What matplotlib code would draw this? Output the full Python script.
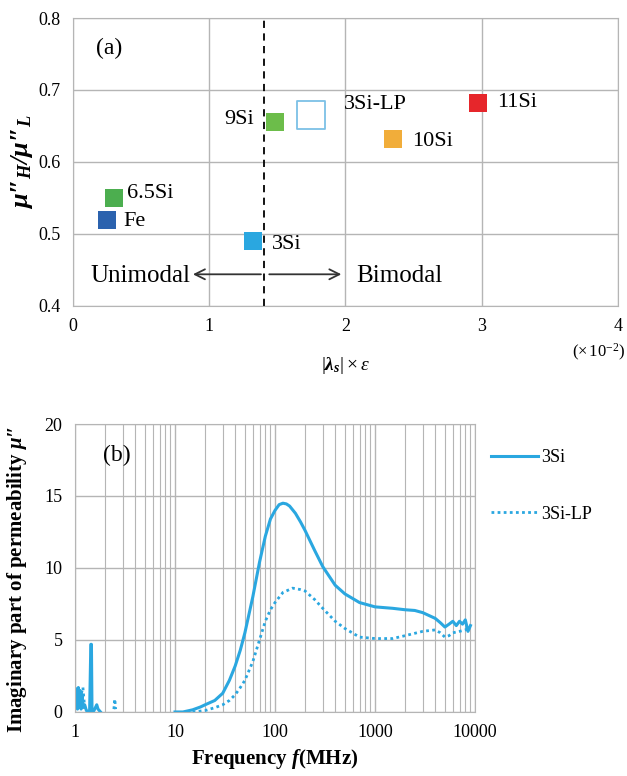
import numpy as np
import matplotlib
matplotlib.use('Agg')
import matplotlib.pyplot as plt

plt.rcParams['font.family'] = ['Liberation Serif', 'DejaVu Serif']
plt.rcParams['mathtext.fontset'] = 'custom'
plt.rcParams['mathtext.rm'] = 'Liberation Serif'
plt.rcParams['mathtext.it'] = 'Liberation Serif:italic'
plt.rcParams['mathtext.bf'] = 'Liberation Serif:bold'
plt.rcParams['mathtext.bfit'] = 'Liberation Serif:bold:italic'

# panel (a) data
samples = ['Fe', '6.5Si', '3Si', '9Si', '3Si-LP', '10Si', '11Si']
lam_eps = [0.25, 0.30, 1.32, 1.48, 1.75, 2.35, 2.97]
ratio = [0.520, 0.550, 0.490, 0.655, 0.665, 0.632, 0.682]
colors = ['#2b62ae', '#4cae4f', '#2aa7e0', '#6cbd4a', 'none', '#f1ad3a', '#e6262b']

# panel (b) data
freq_3si = [1.0, 1.02, 1.04, 1.06, 1.08, 1.1, 1.12, 1.15, 1.18, 1.2, 1.25, 1.3,
            1.4, 1.44, 1.46, 1.48, 1.55, 1.65, 1.7, 1.75, 1.8, np.nan,
            10, 12, 15, 18, 20, 25, 30, 35, 40, 45, 50, 60, 70, 80, 90, 100,
            110, 120, 130, 140, 160, 180, 200, 250, 300, 400, 500, 700, 1000,
            1500, 2000, 2500, 3000, 4000, 4500, 5000, 5500, 6000, 6500, 7000,
            7500, 8000, 8500, 9000]
mu_3si = [1.2, 0.3, 1.6, 0.2, 1.7, 0.4, 1.5, 0.2, 1.2, 0.3, 0.5, 0.1,
          0.0, 4.7, 4.7, 0.0, 0.1, 0.5, 0.2, 0.1, 0.0, np.nan,
          0.0, 0.0, 0.15, 0.35, 0.5, 0.8, 1.3, 2.2, 3.2, 4.3, 5.5, 8.0,
          10.4, 12.2, 13.4, 14.0, 14.4, 14.5, 14.45, 14.3, 13.8, 13.2, 12.6,
          11.2, 10.1, 8.8, 8.2, 7.6, 7.3, 7.2, 7.1, 7.05, 6.9, 6.5, 6.2, 5.9,
          6.1, 6.3, 6.0, 6.3, 6.1, 6.4, 5.6, 6.0]
freq_lp = [1.0, 1.05, 1.1, 1.15, 1.2, 1.25, np.nan, 2.45, 2.5, 2.55, np.nan,
           15, 20, 25, 30, 35, 40, 45, 50, 60, 70, 80, 90, 100, 120, 150, 180,
           200, 250, 300, 400, 500, 700, 1000, 1500, 2000, 3000, 4000, 4500,
           5000, 5500, 6000, 7000, 8000, 9000]
mu_lp = [0.5, 1.5, 1.6, 1.2, 1.7, 0.3, np.nan, 0.2, 0.9, 0.2, np.nan,
         0.0, 0.1, 0.3, 0.5, 0.8, 1.2, 1.7, 2.2, 3.5, 5.0, 6.3, 7.1, 7.6,
         8.3, 8.6, 8.5, 8.4, 7.8, 7.2, 6.3, 5.8, 5.2, 5.1, 5.1, 5.3, 5.6,
         5.7, 5.5, 5.2, 5.3, 5.5, 5.6, 5.7, 5.9]

grid_c = '#b5b5b5'
line_c = '#2aa7e0'

fig = plt.figure(figsize=(6.27, 7.76), dpi=100)

# ---- panel (a)
ax = fig.add_axes([0.1164, 0.6057, 0.8692, 0.3711])
for x, y, c, s in zip(lam_eps, ratio, colors, samples):
    if s == '3Si-LP':
        ax.scatter(x, y, s=400, marker='s', facecolors='white',
                   edgecolors='#7cc0e6', linewidths=1.3, zorder=3)
    else:
        ax.scatter(x, y, s=170, marker='s', color=c, zorder=3, linewidths=0)
labels_pos = {'Fe': (0.37, 0.518, 'left'), '6.5Si': (0.40, 0.556, 'left'),
              '3Si': (1.46, 0.485, 'left'), '9Si': (1.33, 0.659, 'right'),
              '3Si-LP': (1.99, 0.680, 'left'), '10Si': (2.49, 0.629, 'left'),
              '11Si': (3.11, 0.682, 'left')}
for s in samples:
    tx, ty, ha = labels_pos[s]
    ax.text(tx, ty, s, fontsize=16, ha=ha, va='center')
ax.axvline(1.4, color='black', linestyle=(0, (4, 3)), linewidth=1.3, zorder=2)
ax.annotate('', xy=(0.86, 0.444), xytext=(1.4, 0.444),
            arrowprops=dict(arrowstyle='->', color='#333333', lw=1.3,
                            mutation_scale=18))
ax.annotate('', xy=(1.99, 0.444), xytext=(1.42, 0.444),
            arrowprops=dict(arrowstyle='->', color='#333333', lw=1.3,
                            mutation_scale=18))
ax.text(0.86, 0.442, 'Unimodal', fontsize=18, ha='right', va='center')
ax.text(2.08, 0.442, 'Bimodal', fontsize=18, ha='left', va='center')
ax.text(0.17, 0.758, '(a)', fontsize=17, ha='left', va='center')
ax.set_xlim(0, 4)
ax.set_ylim(0.4, 0.8)
ax.set_xticks([0, 1, 2, 3, 4])
ax.set_yticks([0.4, 0.5, 0.6, 0.7, 0.8])
ax.set_yticklabels(['0.4', '0.5', '0.6', '0.7', '0.8'])
ax.grid(True, color=grid_c, linewidth=1.0)
ax.set_axisbelow(True)
ax.tick_params(length=0, labelsize=13, pad=9)
for sp in ax.spines.values():
    sp.set_color(grid_c)
ax.set_xlabel(r'$|\mathbfit{\lambda}_\mathbfit{s}|\times\mathit{\varepsilon}$',
              fontsize=14, labelpad=14)
ax.set_ylabel('\u03bc\u2033$_{\\mathbfit{H}}$/\u03bc\u2033$_{\\mathbfit{L}}$',
              fontsize=19, fontweight='bold', style='italic', labelpad=2)
fig.text(0.998, 0.546, r'($\times\,$10$^{-2}$)', fontsize=12, ha='right', va='center')

# ---- panel (b)
bx = fig.add_axes([0.1196, 0.0825, 0.638, 0.3711])
bx.plot(freq_3si, mu_3si, color=line_c, linewidth=2.2, label='3Si')
bx.plot(freq_lp, mu_lp, color=line_c, linewidth=2.0, linestyle=(0, (1, 1.2)),
        label='3Si-LP')
bx.set_xscale('log')
bx.set_xlim(1, 10000)
bx.set_ylim(0, 20)
bx.set_yticks([0, 5, 10, 15, 20])
bx.set_xticks([1, 10, 100, 1000, 10000])
bx.set_xticklabels(['1', '10', '100', '1000', '10000'])
bx.grid(True, which='major', color=grid_c, linewidth=1.0)
bx.grid(True, which='minor', axis='x', color=grid_c, linewidth=0.8)
bx.set_axisbelow(True)
bx.tick_params(which='both', length=0, labelsize=13, pad=9)
for sp in bx.spines.values():
    sp.set_color(grid_c)
bx.text(1.9, 17.8, '(b)', fontsize=17, ha='left', va='center')
bx.set_xlabel(r'Frequency $\mathbfit{f}$(MHz)', fontsize=15, fontweight='bold',
              labelpad=4)
bx.set_ylabel('Imaginary part of permeability $\\mathbfit{\\mu}$\u2033',
              fontsize=15, fontweight='bold')
bx.yaxis.set_label_coords(-0.115, 0.46)
bx.legend(loc='upper left', bbox_to_anchor=(1.0, 0.97), frameon=False,
          fontsize=13, handlelength=2.6, labelspacing=2.2, handletextpad=0.15)

fig.savefig('out.png', dpi=100)
